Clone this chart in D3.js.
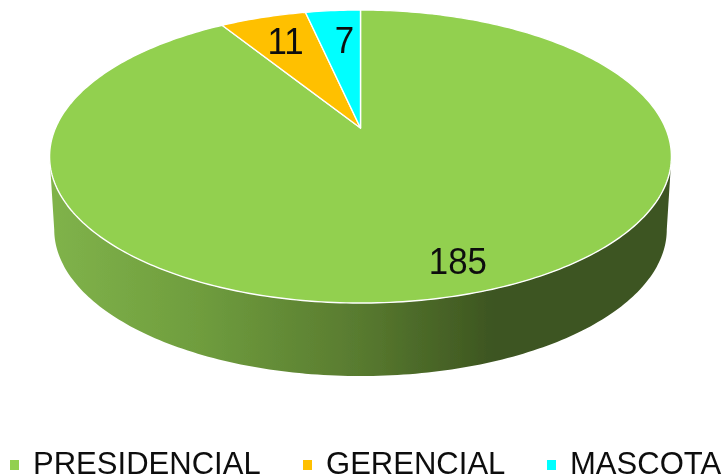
<!DOCTYPE html>
<html>
<head>
<meta charset="utf-8">
<script src="https://cdn.jsdelivr.net/npm/d3@7"></script>
<style>
  html, body { margin: 0; padding: 0; background: #fff; }
  text { font-family: "Liberation Sans", Arial, sans-serif; fill: #111; }
</style>
</head>
<body>
<div id="chart"></div>
<script>
var categories = ["PRESIDENCIAL", "GERENCIAL", "MASCOTA"];
var values = [185, 11, 7];
var colors = ["#92d050", "#ffc000", "#00ffff"];

var svgWidth = 724;
var svgHeight = 476;

// pie tilt: unit circle goes through a perspective mapping so the apex sits above the ellipse middle
var apexX = 360.5, apexY = 128;
var scaleX = 305, scaleY = 141, persp = 0.1945;
var depth = 73;

function project(angle, r, drop, shrink) {
  var u = r * Math.sin(angle), v = r * Math.cos(angle);
  var d = 1 + persp * v;
  return [apexX + (shrink || 1) * scaleX * u / d, apexY - scaleY * v / d + (drop || 0)];
}

function arcPoints(a0, a1, drop, shrink) {
  var n = Math.max(2, Math.ceil(Math.abs(a1 - a0) * 60));
  return d3.range(n + 1).map(function(i) {
    return project(a0 + (a1 - a0) * i / n, 1, drop, shrink);
  });
}

var svg = d3.select("#chart")
  .append("svg")
  .attr("width", svgWidth)
  .attr("height", svgHeight)
  .style("display", "block");

var defs = svg.append("defs");
defs.append("filter").attr("id", "soft")
  .append("feGaussianBlur").attr("stdDeviation", 0.45);

// side wall shading, left to right
var wallGrad = defs.append("linearGradient")
  .attr("id", "wall")
  .attr("gradientUnits", "userSpaceOnUse")
  .attr("x1", 50).attr("x2", 672).attr("y1", 0).attr("y2", 0);
[[0, "#80b34a"], [0.24, "#6f9d3e"], [0.5, "#587a2f"], [0.72, "#3c5420"], [1, "#3c5420"]]
  .forEach(function(s) {
    wallGrad.append("stop").attr("offset", s[0]).attr("stop-color", s[1]);
  });

var chartGroup = svg.append("g").attr("filter", "url(#soft)");
var line = d3.line();

var pie = d3.pie().sort(null).value(function(d) { return d; });
var slices = pie(values);

// find the widest points of the rim, wall runs between them through the front
var leftA = Math.PI * 2 - Math.acos(-persp);
var rightA = Math.acos(-persp);
var wallPts = arcPoints(rightA, leftA, 0)
  .concat(arcPoints(leftA, rightA, depth, 0.985));

chartGroup.append("path")
  .attr("d", line(wallPts) + "Z")
  .attr("fill", "url(#wall)");

chartGroup.selectAll("path.slice")
  .data(slices)
  .enter()
  .append("path")
  .attr("class", "slice")
  .attr("d", function(d) {
    return line([[apexX, apexY]].concat(arcPoints(d.startAngle, d.endAngle, 0))) + "Z";
  })
  .attr("fill", function(d, i) { return colors[i]; })
  .attr("stroke", "#fff")
  .attr("stroke-width", 1.4)
  .attr("stroke-linejoin", "round");

// data labels, a bit condensed like the original
var labelR = [0.83, 0.76, 0.73];
var labelDx = [15, 2, 5];
var labelDy = [-1, 0, 1];
chartGroup.selectAll("text.value")
  .data(slices)
  .enter()
  .append("text")
  .attr("class", "value")
  .attr("transform", function(d, i) {
    var p = project((d.startAngle + d.endAngle) / 2, labelR[i]);
    return "translate(" + (p[0] + labelDx[i]) + "," + (p[1] + labelDy[i]) + ") scale(0.93,1)";
  })
  .attr("dy", "0.36em")
  .attr("text-anchor", "middle")
  .attr("font-size", 37.5)
  .text(function(d) { return d.data; });

// legend
var legendX = [10, 303, 547];
var legend = chartGroup.selectAll("g.legend")
  .data(categories)
  .enter()
  .append("g")
  .attr("class", "legend")
  .attr("transform", function(d, i) { return "translate(" + legendX[i] + ",0)"; });

legend.append("rect")
  .attr("y", 460)
  .attr("width", 9)
  .attr("height", 10)
  .attr("fill", function(d, i) { return colors[i]; });

legend.append("text")
  .attr("transform", "translate(23,473.5) scale(0.97,1)")
  .attr("font-size", 32)
  .text(function(d) { return d; });
</script>
</body>
</html>
